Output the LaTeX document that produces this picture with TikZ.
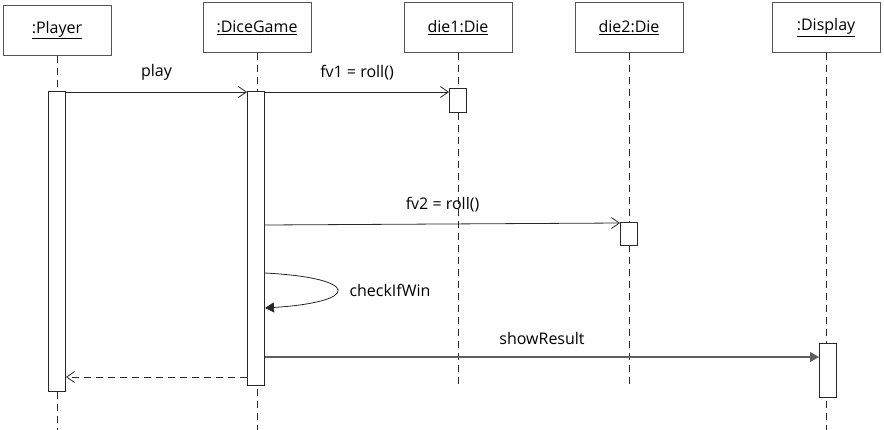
\documentclass[tikz,border=0pt]{standalone}
\usepackage{fontspec}
\setmainfont{Open Sans}
\usepackage{tikz}
\usetikzlibrary{
  arrows.meta,
  positioning
}
\definecolor{seqline}{RGB}{40,40,40}
\definecolor{seqbox}{RGB}{85,85,85}
\definecolor{seqgray}{RGB}{95,95,95}
\tikzset{
  obj/.style={
    rectangle, draw=seqbox, fill=white, line width=1pt,
    minimum width=108pt, minimum height=50pt,
    text centered, font=\fontsize{16}{19}\selectfont
  },
  lifeline/.style={
    draw=seqline, line width=0.8pt, dash pattern=on 7pt off 5pt
  },
  actbar/.style={
    rectangle, draw=seqline, fill=white, line width=0.9pt,
    minimum width=17pt, inner sep=0pt, anchor=north
  },
  msgtext/.style={font=\fontsize{16}{19}\selectfont, text=black, above=8pt},
  msg/.style={-{Straight Barb[length=8pt,width=11pt]}, line width=0.8pt, color=seqline},
  msgF/.style={-{Triangle[length=9pt,width=10pt]}, line width=0.8pt, color=seqline},
  msgG/.style={-{Triangle[length=9pt,width=10pt]}, line width=1.1pt, color=seqgray},
  reply/.style={-{Straight Barb[length=8pt,width=11pt]}, line width=0.8pt,
    color=seqline, dash pattern=on 7pt off 5pt}
}

\begin{document}
\begin{tikzpicture}[x=1pt, y=-1pt]
  \useasboundingbox[fill=white] (0,0) rectangle (884,429);

  \node[obj] (player)  at (57,30)    {\underline{:Player}};
  \node[obj] (game)    at (257,27.5) {\underline{:DiceGame}};
  \node[obj] (die1)    at (458,27.5) {\underline{die1:Die}};
  \node[obj] (die2)    at (629,27.5) {\underline{die2:Die}};
  \node[obj] (display) at (826,27.5) {\underline{:Display}};

  \draw[lifeline] (player.south)  -- ++(0,374);
  \draw[lifeline] (game.south)    -- ++(0,377);
  \draw[lifeline] (die1.south)    -- ++(0,331);
  \draw[lifeline] (die2.south)    -- ++(0,331);
  \draw[lifeline] (display.south) -- ++(0,377);

  \node[actbar, minimum height=300pt] (actP) at (57,91)  {};
  \node[actbar, minimum height=294pt] (actG) at (256,91) {};
  \node[actbar, minimum height=24pt]  (act1) at (458,88) {};
  \node[actbar, minimum height=23pt]  (act2) at (629,222) {};
  \node[actbar, minimum height=54pt]  (actS) at (828,343) {};

  \coordinate (fv2s) at (265,225);
  \coordinate (cw1)  at (265,273);
  \coordinate (cw2)  at (265,308);

  \draw[msg]  ([yshift=-1pt]actP.north east) -- ([yshift=-1pt]actG.north west)
    node[msgtext, midway] {play};
  \draw[msg]  ([yshift=-1pt]actG.north east) -- ([yshift=-1pt]actG.north east -| act1.west)
    node[msgtext, midway] {fv1 = roll()};
  \draw[msg]  (fv2s) -- ([yshift=-1pt]act2.north west)
    node[msgtext, midway] {fv2 = roll()};
  \draw[msgF] (cw1) .. controls (361,278) and (361,302) .. (cw2);
  \node[font=\fontsize{16}{19}\selectfont] (cwl) at (390,290) {checkIfWin};
  \draw[msgG] (actG.east |- 0,357) -- (actS.west |- 0,357)
    node[msgtext, midway] {showResult};
  \draw[reply] (actG.west |- 0,377) -- (actP.east |- 0,377);
\end{tikzpicture}
\end{document}
